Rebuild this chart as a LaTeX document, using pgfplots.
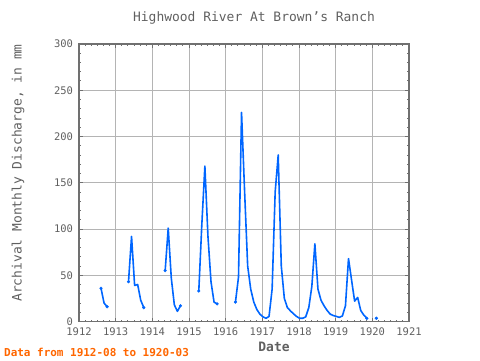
\documentclass[border=0pt]{standalone}
\usepackage{fontspec}
\setmainfont{DejaVu Sans Mono}
\usepackage{pgfplots}
\usepackage{pgfplotstable}
\pgfplotsset{compat=1.18}
\definecolor{linec}{RGB}{0,102,255}
\definecolor{framec}{RGB}{112,112,112}
\definecolor{gridc}{RGB}{180,180,180}
\definecolor{textc}{RGB}{96,96,96}
\definecolor{orangec}{RGB}{255,102,0}
\pgfplotstableread{
x y
1912.600 36
1912.683 20
1912.767 16
1913.000 nan
1913.350 43
1913.433 92
1913.517 39
1913.600 40
1913.683 23
1913.767 15
1914.000 nan
1914.350 55
1914.433 101
1914.517 47
1914.600 18
1914.683 11
1914.767 17
1915.000 nan
1915.267 33
1915.350 105
1915.433 168
1915.517 92
1915.600 43
1915.683 21
1915.767 19
1916.000 nan
1916.267 21
1916.350 48
1916.433 226
1916.517 140
1916.600 60
1916.683 35
1916.767 21
1916.850 13
1916.933 8
1917.017 5
1917.100 3.5
1917.183 5.5
1917.267 35
1917.350 140
1917.433 180
1917.517 60
1917.600 25
1917.683 15
1917.767 11.5
1917.850 8.3
1917.933 5.5
1918.017 3.5
1918.100 3.5
1918.183 5
1918.267 15
1918.350 38
1918.433 84
1918.517 35
1918.600 23
1918.683 17
1918.767 12
1918.850 8
1918.933 6.5
1919.017 5.5
1919.100 4.5
1919.183 6
1919.267 17
1919.350 68
1919.433 45
1919.517 22
1919.600 26
1919.683 12
1919.767 7
1919.850 3.5
1920.000 nan
1920.110 3.5
}\flow
\pgfplotstableread{
x y
1912.600 36
1912.767 16
1913.350 43
1913.767 15
1914.350 55
1914.767 17
1915.267 33
1915.767 19
1916.267 21
1919.850 3.5
1920.110 3.5
}\ends
\begin{document}
\begin{tikzpicture}[x=1bp,y=1bp]
\useasboundingbox (0,0) rectangle (480,360);
\begin{axis}[
  at={(79bp,38.5bp)}, anchor=south west,
  width=330bp, height=277.5bp, scale only axis,
  xmin=1912, xmax=1921, ymin=0, ymax=300,
  xtick={1912,1913,1914,1915,1916,1917,1918,1919,1920,1921},
  xticklabels={1912,1913,1914,1915,1916,1917,1918,1919,1920,1921},
  ytick={0,50,100,150,200,250,300},
  yticklabels={0,50,100,150,200,250,300},
  minor x tick num=5, minor y tick num=4,
  grid=major, major grid style={gridc, line width=0.8bp},
  axis line style={framec, line width=1.6bp},
  every tick/.style={framec, line width=1bp},
  major tick length=4bp, minor tick length=2bp,
  tick align=inside,
  ticklabel style={font=\fontsize{10.5}{12}\selectfont, text=textc},
  xticklabel style={yshift=-2.5bp},
  yticklabel style={xshift=-2.5bp},
  unbounded coords=jump,
]
\addplot[linec, line width=1.6bp, line join=round] table[x=x,y=y] {\flow};
\addplot[only marks, mark=*, mark size=1.4bp, color=linec] table[x=x,y=y] {\ends};
\end{axis}
\node[text=textc, font=\fontsize{13}{14}\selectfont] at (254,342) {Highwood River At Brown's Ranch};
\node[text=textc, font=\fontsize{13}{14}\selectfont, rotate=90] at (18,187) {Archival Monthly Discharge, in mm};
\node[text=textc, font=\bfseries\fontsize{13}{14}\selectfont] at (274,13) {Date};
\node[text=orangec, font=\bfseries\fontsize{11}{12}\selectfont, anchor=west, inner sep=0pt] at (4,8) {Data from 1912-08 to 1920-03};
\end{tikzpicture}
\end{document}
